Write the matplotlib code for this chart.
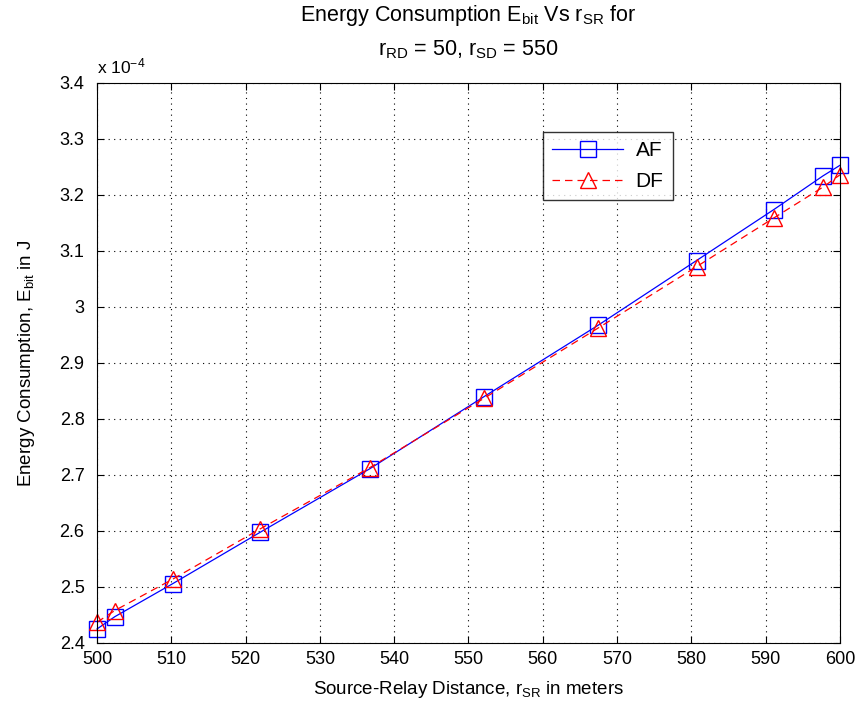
import matplotlib
matplotlib.use("Agg")
import matplotlib.pyplot as plt

plt.rcParams['font.family'] = ['Liberation Sans', 'DejaVu Sans']
plt.rcParams['mathtext.fontset'] = 'custom'
plt.rcParams['mathtext.rm'] = 'Liberation Sans'
plt.rcParams['mathtext.it'] = 'Liberation Sans'

# source-relay distance (m)
r_sr = [500.0, 502.4, 510.2, 522.0, 536.7, 552.1, 567.4, 580.7, 591.1, 597.7, 600.0]
# energy per bit, in units of 1e-4 J
e_af = [2.425, 2.447, 2.506, 2.598, 2.711, 2.840, 2.967, 3.083, 3.174, 3.234, 3.253]
e_df = [2.437, 2.458, 2.514, 2.604, 2.713, 2.837, 2.962, 3.072, 3.159, 3.214, 3.236]

xticks = [500, 510, 520, 530, 540, 550, 560, 570, 580, 590, 600]
yticks = [2.4, 2.5, 2.6, 2.7, 2.8, 2.9, 3.0, 3.1, 3.2, 3.3, 3.4]

fig = plt.figure(figsize=(8.6, 7.13), dpi=100)
ax = fig.add_axes([0.1128, 0.0982, 0.8639, 0.7854])

ax.plot(r_sr, e_af, color='blue', linestyle='-', linewidth=0.9,
        marker='s', markersize=11, markerfacecolor='none',
        markeredgecolor='blue', markeredgewidth=1.0, label='AF', clip_on=False)
ax.plot(r_sr, e_df, color='red', linestyle=(0, (6, 4)), linewidth=0.9,
        marker='^', markersize=12, markerfacecolor='none',
        markeredgecolor='red', markeredgewidth=1.0, label='DF', clip_on=False)

ax.set_xlim(500, 600)
ax.set_ylim(2.4, 3.4)
ax.set_xticks(xticks)
ax.set_yticks(yticks)
ax.set_xticklabels([str(v) for v in xticks])
ax.set_yticklabels(['%g' % v for v in yticks])
ax.tick_params(direction='in', top=True, right=True, length=5, width=0.8,
               labelsize=13, colors='black')
ax.tick_params(axis='x', pad=6)
ax.tick_params(axis='y', pad=9)
for s in ax.spines.values():
    s.set_linewidth(0.8)
ax.grid(True, color='black', linestyle=(0, (1, 4)), linewidth=0.8)

ax.set_xlabel('Source-Relay Distance, r$_{SR}$ in meters', fontsize=13.5, labelpad=8)
ax.set_ylabel('Energy Consumption, E$_{bit}$ in J', fontsize=13.5, labelpad=16)
ax.set_title('Energy Consumption E$_{bit}$ Vs r$_{SR}$ for\nr$_{RD}$ = 50, r$_{SD}$ = 550',
             fontsize=15.5, pad=20, linespacing=1.6)
ax.text(0.0, 1.012, 'x 10$^{-4}$', transform=ax.transAxes, fontsize=12.5,
        ha='left', va='bottom')

leg = ax.legend(loc='upper left', bbox_to_anchor=(0.6, 0.9125), fontsize=15,
                frameon=True, fancybox=False, edgecolor='black',
                handlelength=3.4, borderpad=0.45, labelspacing=0.55,
                handletextpad=0.6, borderaxespad=0)
leg.get_frame().set_linewidth(1.0)

fig.savefig('out.png', dpi=100)
